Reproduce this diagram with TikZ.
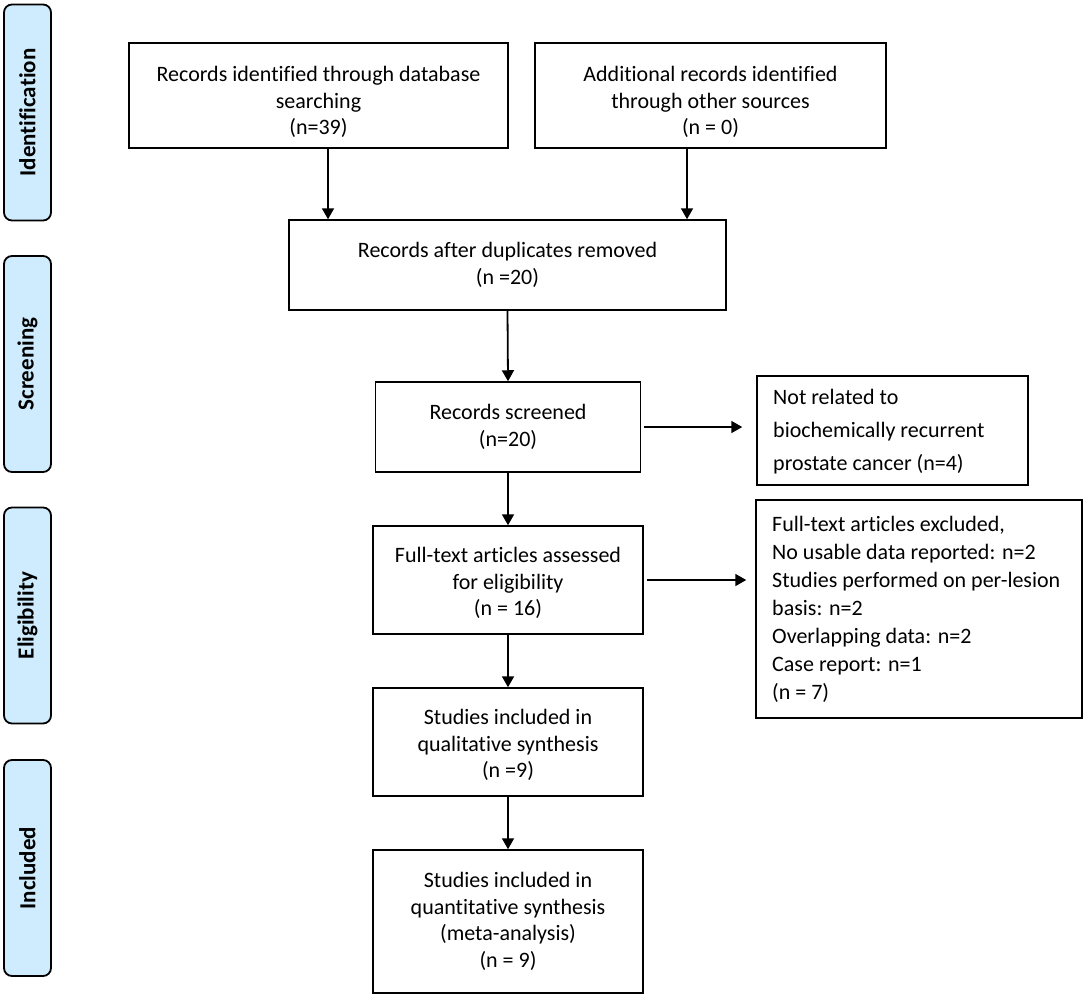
\documentclass[tikz,border=0pt]{standalone}
\usepackage{fontspec}
\setmainfont{Carlito}[Ligatures={NoCommon}]
\usetikzlibrary{arrows.meta}
\definecolor{sidefill}{RGB}{206,236,253}
\begin{document}
\begin{tikzpicture}[x=1pt,y=-1pt,
  prbox/.style={draw=black, line width=1.5pt, rectangle, inner sep=0pt},
  ctext/.style={align=center, font=\fontsize{22}{26.5}\selectfont, inner sep=0pt},
  ltexta/.style={align=left, anchor=west, font=\fontsize{22}{33}\selectfont, inner sep=0pt},
  ltextb/.style={align=left, anchor=west, font=\fontsize{22}{28}\selectfont, inner sep=0pt},
  side/.style={draw=black, line width=1.8pt, fill=sidefill, rounded corners=8pt,
    minimum width=47pt, minimum height=216pt, inner sep=0pt},
  sidetext/.style={rotate=90, font=\fontsize{23}{26}\selectfont\bfseries, inner sep=0pt},
  arr/.style={line width=1.8pt, -{Triangle[width=12pt,length=11pt]}}
]
\useasboundingbox (0,0) rectangle (1084,998);

% side labels
\node[side] (s1) at (27.5,112.5) {};
\node[sidetext] (s1t) at (s1.center) {Identification};
\node[side] (s2) at (27.5,364) {};
\node[sidetext] (s2t) at (s2.center) {Screening};
\node[side] (s3) at (27.5,615.5) {};
\node[sidetext] (s3t) at (s3.center) {Eligibility};
\node[side] (s4) at (27.5,868) {};
\node[sidetext] (s4t) at (s4.center) {Included};

% boxes
\node[prbox, minimum width=379pt, minimum height=105pt] (b1) at (318.5,95.5) {};
\node[ctext] (b1t) at ([yshift=-6.5pt]b1.center) {Records identified through database\\searching\\(n=39)};

\node[prbox, minimum width=351pt, minimum height=105pt] (b2) at (710.5,95.5) {};
\node[ctext] (b2t) at ([yshift=-6.5pt]b2.center) {Additional records identified\\through other sources\\(n = 0)};

\node[prbox, minimum width=437pt, minimum height=90pt] (b3) at (507.5,265) {};
\node[ctext] (b3t) at (b3.center) {Records after duplicates removed\\(n =20)};

\node[prbox, minimum width=265pt, minimum height=90pt] (b4) at (508,427) {};
\node[ctext] (b4t) at (b4.center) {Records screened\\(n=20)};

\node[prbox, minimum width=271pt, minimum height=109pt] (b5) at (892.5,430.5) {};
\node[ltexta] (b5t) at (773,432) {Not related to\\biochemically recurrent\\prostate cancer (n=4)};

\node[prbox, minimum width=270pt, minimum height=108pt] (b7) at (508,580) {};
\node[ctext] (b7t) at ([yshift=-3pt]b7.center) {Full-text articles assessed\\for eligibility\\(n = 16)};

\node[prbox, minimum width=326pt, minimum height=218pt] (b6) at (919,609) {};
\node[ltextb] (b6t) at (772,609.5) {Full-text articles excluded,\\No usable data reported: n=2\\Studies performed on per-lesion\\basis: n=2\\Overlapping data: n=2\\Case report: n=1\\(n = 7)};

\node[prbox, minimum width=270pt, minimum height=108pt] (b8) at (508,742) {};
\node[ctext] (b8t) at ([yshift=-3pt]b8.center) {Studies included in\\qualitative synthesis\\(n =9)};

\node[prbox, minimum width=270pt, minimum height=143pt] (b9) at (508,921.5) {};
\node[ctext] (b9t) at (b9.center) {Studies included in\\quantitative synthesis\\(meta-analysis)\\(n = 9)};

% connectors
\draw[arr] ([xshift=9.5pt]b1.south) -- ([xshift=9.5pt]b1.south |- b3.north);
\draw[arr] ([xshift=-23.5pt]b2.south) -- ([xshift=-23.5pt]b2.south |- b3.north);
\draw[arr] (b3.south) -- (b4.north);
\draw[arr] (b4.south) -- (b7.north);
\draw[arr] (b7.south) -- (b8.north);
\draw[arr] (b8.south) -- (b9.north);
\draw[arr] ([xshift=3pt]b4.east) -- ([xshift=-14pt]b5.west |- b4.east);
\draw[arr] ([xshift=3pt]b7.east) -- ([xshift=-9pt]b6.west |- b7.east);
\end{tikzpicture}
\end{document}
